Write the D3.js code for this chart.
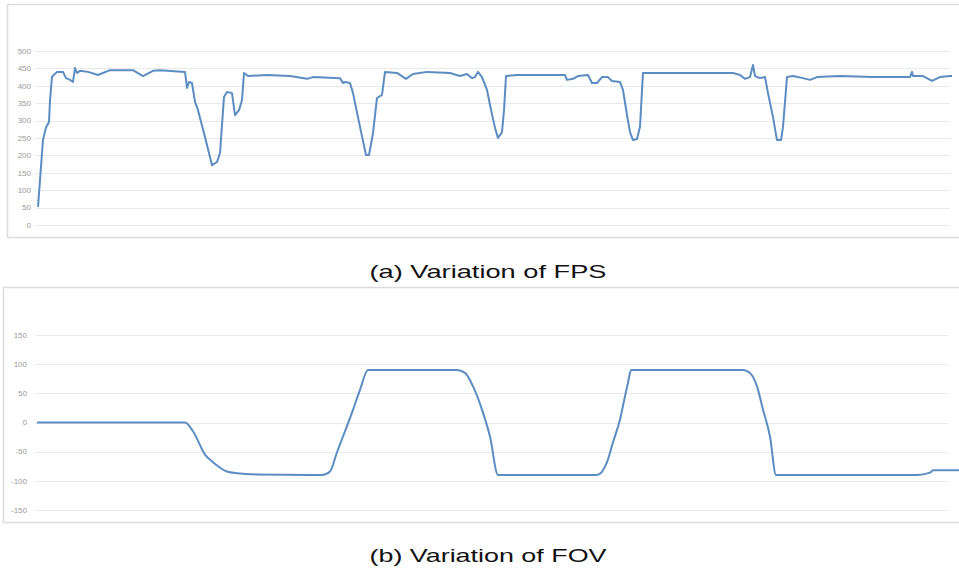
<!DOCTYPE html>
<html>
<head>
<meta charset="utf-8">
<script src="https://cdn.jsdelivr.net/npm/d3@7"></script>
<style>
  html, body { margin: 0; padding: 0; background: #fff; }
  svg { display: block; }
  .tick-label { font-family: "Liberation Sans", Arial, sans-serif; font-size: 8px; fill: #9a9a9a; }
  .caption { font-family: "Liberation Sans", Arial, sans-serif; font-size: 19px; fill: #111; }
</style>
</head>
<body>
<div id="chart"></div>
<script>
// (a) FPS: frame index and frames per second
const fpsFrame = [0, 5, 8, 11, 12, 14, 19, 25, 28, 32, 35, 37, 39, 42, 50, 60, 72, 95, 105, 115, 122,
  147, 149, 151, 154, 157, 160, 167, 174, 179, 182, 186, 189, 194, 197, 201, 204, 206, 210, 229, 252,
  269, 275, 302, 305, 307, 312, 315, 322, 328, 331, 335, 339, 344, 347, 359, 368, 375, 389, 412, 422,
  429, 434, 437, 440, 444, 449, 452, 457, 460, 464, 466, 468, 479, 527, 529, 535, 540, 550, 554, 559,
  564, 570, 574, 582, 585, 589, 592, 595, 599, 602, 605, 629, 662, 695, 702, 707, 712, 715, 717, 722,
  727, 730, 735, 739, 743, 745, 749, 755, 765, 772, 779, 802, 835, 865, 872, 874, 875, 885, 894, 902,
  912, 914];
const fpsValue = [52, 245, 280, 296, 359, 426, 440, 440, 422, 417, 411, 451, 437, 443, 440, 431, 445,
  445, 428, 443, 445, 440, 394, 411, 408, 354, 330, 253, 172, 181, 207, 368, 382, 379, 316, 330, 359,
  437, 428, 431, 428, 420, 425, 422, 408, 411, 408, 379, 282, 201, 201, 264, 365, 374, 440, 437, 420,
  434, 440, 437, 428, 434, 422, 425, 440, 425, 388, 345, 279, 250, 267, 330, 428, 431, 431, 417, 420,
  428, 431, 408, 408, 425, 425, 414, 411, 388, 316, 267, 244, 247, 282, 437, 437, 437, 437, 431, 420,
  425, 460, 428, 422, 425, 379, 310, 244, 244, 282, 425, 428, 422, 417, 425, 428, 425, 425, 425, 440,
  428, 428, 414, 425, 428, 428];
const fpsTicks = [0, 50, 100, 150, 200, 250, 300, 350, 400, 450, 500];

// (b) FOV: frame index and field of view angle
const fovFrame = [0, 148, 156, 168, 176, 190, 200, 220, 285, 293, 300, 306, 315, 323, 331, 420, 428,
  436, 446, 453, 461, 560, 570, 576, 583, 588, 591, 594, 706, 713, 720, 726, 733, 739, 880, 893, 896, 922];
const fovValue = [0, 0, -15, -55, -68, -84, -87, -89, -90, -84, -51, -24, 17, 56, 90, 90, 85, 62, 17,
  -24, -90, -90, -68, -34, 5, 45, 68, 90, 90, 85, 62, 22, -24, -90, -90, -86, -82, -82];
const fovTicks = [-150, -100, -50, 0, 50, 100, 150];

const captions = ["(a) Variation of FPS", "(b) Variation of FOV"];

const width = 959, height = 572;
const lineColor = "#5b8cc2";
const gridColor = "#e9e9e9";
const frameColor = "#dcdcdc";

const svg = d3.select("#chart").append("svg")
  .attr("width", width)
  .attr("height", height);

function drawPanel(opts) {
  const g = svg.append("g");

  // outer frame of the pasted chart
  g.append("rect")
    .attr("x", opts.frame[0] + 0.5)
    .attr("y", opts.frame[1] + 0.5)
    .attr("width", opts.frame[2])
    .attr("height", opts.frame[3])
    .attr("fill", "none")
    .attr("stroke", frameColor)
    .attr("stroke-width", 1.5);

  const x = d3.scaleLinear()
    .domain(d3.extent(opts.frames))
    .range(opts.xRange);

  const y = d3.scaleLinear()
    .domain(opts.yDomain)
    .range(opts.yRange);

  // horizontal gridlines
  g.selectAll("line.grid")
    .data(opts.ticks)
    .enter()
    .append("line")
    .attr("class", "grid")
    .attr("x1", opts.gridX[0])
    .attr("x2", opts.gridX[1])
    .attr("y1", d => Math.round(y(d)) + 0.5)
    .attr("y2", d => Math.round(y(d)) + 0.5)
    .attr("stroke", gridColor)
    .attr("stroke-width", 1);

  // tick labels
  g.selectAll("text.tick-label")
    .data(opts.ticks)
    .enter()
    .append("text")
    .attr("class", "tick-label")
    .attr("x", opts.labelX)
    .attr("y", d => y(d))
    .attr("dy", "0.35em")
    .attr("text-anchor", "end")
    .text(d => d);

  const pts = opts.frames.map((f, i) => [f, opts.values[i]]);
  const line = d3.line()
    .x(d => x(d[0]))
    .y(d => y(d[1]))
    .curve(opts.curve);

  g.append("path")
    .datum(pts)
    .attr("d", line)
    .attr("fill", "none")
    .attr("stroke", lineColor)
    .attr("stroke-width", 2)
    .attr("stroke-linejoin", "round");

  g.append("text")
    .attr("class", "caption")
    .attr("x", opts.caption[1])
    .attr("y", opts.caption[2])
    .attr("text-anchor", "middle")
    .attr("textLength", 237)
    .attr("lengthAdjust", "spacingAndGlyphs")
    .text(opts.caption[0]);
}

drawPanel({
  frame: [7, 4, 960, 233],
  frames: fpsFrame,
  values: fpsValue,
  ticks: fpsTicks,
  xRange: [38, 952],
  yDomain: [0, 500],
  yRange: [225, 51],
  gridX: [35, 950],
  labelX: 31,
  curve: d3.curveLinear,
  caption: [captions[0], 488, 278]
});

drawPanel({
  frame: [3, 287, 960, 235],
  frames: fovFrame,
  values: fovValue,
  ticks: fovTicks,
  xRange: [37, 959],
  yDomain: [-150, 150],
  yRange: [510, 335],
  gridX: [35, 948],
  labelX: 27,
  curve: d3.curveMonotoneX,
  caption: [captions[1], 488, 562]
});
</script>
</body>
</html>
